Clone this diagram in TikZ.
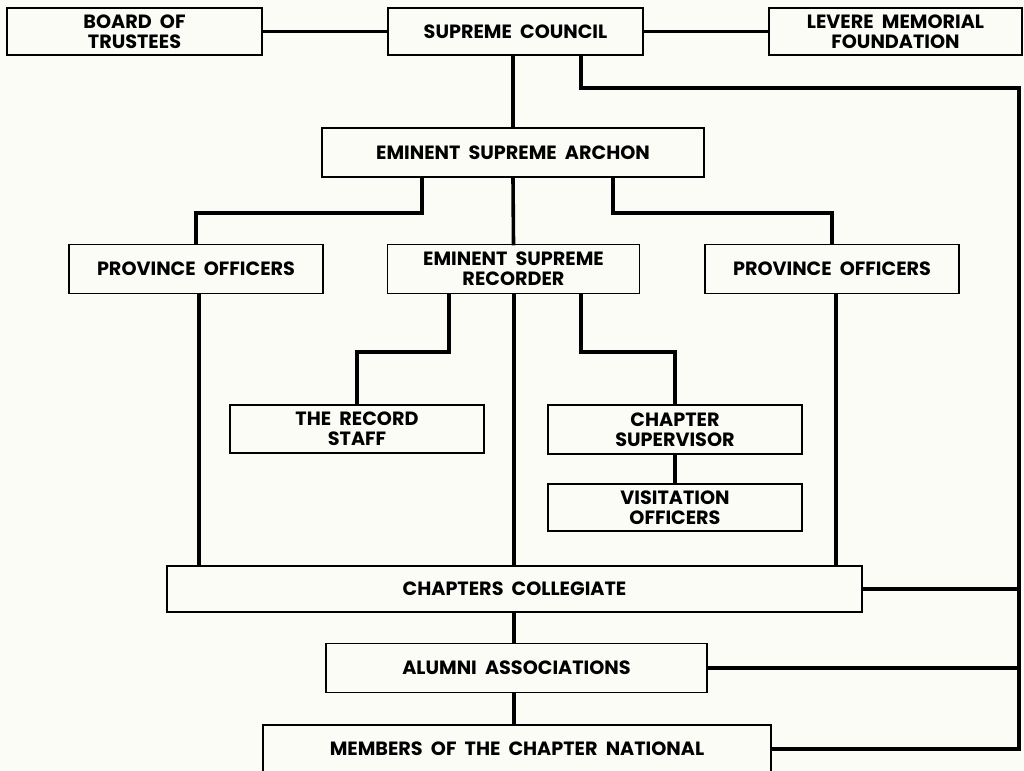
\documentclass[tikz,border=0pt]{standalone}
\usepackage{fontspec}
\setmainfont{Poppins}[WordSpace=2]
\definecolor{paper}{RGB}{252,252,246}
\tikzset{
  box/.style={draw, line width=0.85pt, fill=paper, align=center, inner sep=0pt,
    font=\fontsize{9.6}{10}\selectfont\bfseries},
  link/.style={line width=1.8pt, line cap=rect}
}
\begin{document}
\begin{tikzpicture}[x=0.5pt, y=-0.5pt]
  \fill [paper] (0, 0) rectangle (1024, 771);
  \useasboundingbox (0, 0) rectangle (1024, 771);
  % top row
  \node [box, minimum width=127.5pt, minimum height=23.5pt] (trustees) at (134.5, 31.5) {BOARD OF\\TRUSTEES};
  \node [box, minimum width=127.5pt, minimum height=23.5pt] (council) at (515.5, 31.5) {SUPREME COUNCIL};
  \node [box, minimum width=126.5pt, minimum height=23.5pt] (levere) at (895.5, 31.5) {LEVERE MEMORIAL\\FOUNDATION};
  \node [box, minimum width=191pt, minimum height=24.5pt] (archon) at (513, 152.5) {EMINENT SUPREME ARCHON};
  % officers
  \node [box, minimum width=127pt, minimum height=24.5pt] (provL) at (196, 269) {PROVINCE OFFICERS};
  \node [box, minimum width=126pt, minimum height=24.5pt] (recorder) at (513.5, 269) {EMINENT SUPREME\\RECORDER};
  \node [box, minimum width=127pt, minimum height=24.5pt] (provR) at (832, 269) {PROVINCE OFFICERS};
  \node [box, minimum width=127pt, minimum height=24pt] (record) at (357, 429) {THE RECORD\\STAFF};
  \node [box, minimum width=127pt, minimum height=24.5pt] (supervisor) at (675, 429.5) {CHAPTER\\SUPERVISOR};
  \node [box, minimum width=127pt, minimum height=23.5pt] (visitation) at (675, 507.5) {VISITATION\\OFFICERS};
  % chapters
  \node [box, minimum width=347.5pt, minimum height=23pt] (collegiate) at (514.5, 589) {CHAPTERS COLLEGIATE};
  \node [box, minimum width=190.5pt, minimum height=24.5pt] (alumni) at (516.5, 668) {ALUMNI ASSOCIATIONS};
  \node [box, minimum width=254pt, minimum height=24pt] (members) at (517, 749) {MEMBERS OF THE CHAPTER NATIONAL};
  % links
  \draw [link] (trustees) -- (council);
  \draw [link] (council) -- (levere);
  \draw [link] (council.south -| archon.north) -- (archon.north);
  \draw [link] (archon.south -| 422, 0) -- (422, 213) -| (provL.north);
  \draw [link] (archon.south -| 613, 0) -- (613, 213) -| (provR.north);
  \draw [link] (archon.south) -- (recorder.north);
  \draw [link] (recorder.south -| 449, 0) -- (449, 352) -| (record.north);
  \draw [link] (recorder.south -| 581, 0) -- (581, 352) -| (supervisor.north);
  \draw [link] (supervisor) -- (visitation);
  \draw [link] (provL.south -| 199, 0) -- (199, 0 |- collegiate.north);
  \draw [link] (provR.south -| 836, 0) -- (836, 0 |- collegiate.north);
  \draw [link] (recorder.south -| 514, 0) -- (514, 0 |- collegiate.north);
  \draw [link] (collegiate.south -| 514, 0) -- (514, 0 |- alumni.north);
  \draw [link] (alumni.south -| 514, 0) -- (514, 0 |- members.north);
  % right rail
  \coordinate (railtop) at (1019, 88);
  \draw [link] (council.south -| 581, 0) |- (railtop) -- (railtop |- members.east) -- (members.east);
  \draw [link] (collegiate.east) -- (collegiate.east -| railtop);
  \draw [link] (alumni.east) -- (alumni.east -| railtop);
\end{tikzpicture}
\end{document}
